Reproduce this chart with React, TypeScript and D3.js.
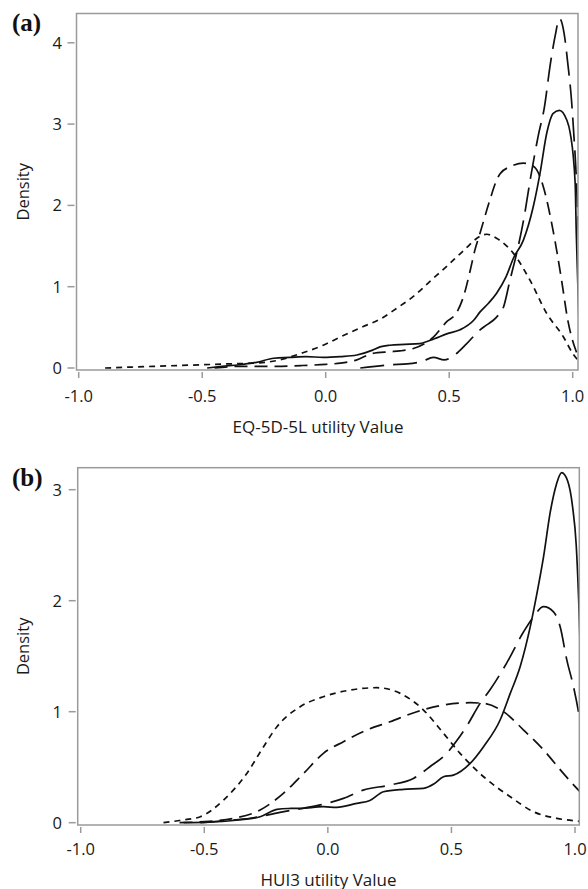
import React from "react";
import * as d3 from "d3";

// ---------- data ----------
const xTicks = [-1, -0.5, 0, 0.5, 1];
const xTickLabels = ["-1.0", "-0.5", "0.0", "0.5", "1.0"];
const yTicksA = [0, 1, 2, 3, 4];
const yTicksB = [0, 1, 2, 3];

// Panel (a) EQ-5D-5L
const aSolidX = [-0.48, -0.42, -0.35, -0.28, -0.21, -0.145, -0.08, -0.01, 0.06, 0.126, 0.19, 0.22, 0.26, 0.32, 0.38, 0.44, 0.49, 0.544, 0.6, 0.625, 0.66, 0.692, 0.73, 0.76, 0.8, 0.84, 0.868, 0.895, 0.92, 0.946, 0.976, 0.99, 1.01, 1.0145, 1.025];
const aSolidY = [0, 0.02, 0.04, 0.07, 0.12, 0.13, 0.14, 0.13, 0.14, 0.16, 0.22, 0.26, 0.28, 0.29, 0.3, 0.36, 0.42, 0.47, 0.59, 0.69, 0.8, 0.92, 1.12, 1.35, 1.57, 1.98, 2.4, 2.89, 3.13, 3.17, 3.05, 2.89, 2.27, 1.66, 0.6];

const aLongX = [0.14, 0.2, 0.26, 0.33, 0.39, 0.436, 0.48, 0.517, 0.571, 0.625, 0.652, 0.69, 0.72, 0.746, 0.773, 0.8, 0.83, 0.86, 0.885, 0.91, 0.93, 0.946, 0.965, 0.98, 0.995, 1.005, 1.012, 1.025];
const aLongY = [0, 0.02, 0.04, 0.05, 0.08, 0.13, 0.1, 0.15, 0.3, 0.47, 0.53, 0.62, 0.75, 1.08, 1.41, 1.8, 2.35, 2.85, 3.2, 3.75, 4.1, 4.3, 4.12, 3.75, 3.3, 2.85, 2.5, 1.5];

const aMedX = [-0.45, -0.35, -0.2, -0.1, 0.0, 0.06, 0.126, 0.19, 0.26, 0.3, 0.355, 0.4, 0.436, 0.49, 0.53, 0.56, 0.585, 0.604, 0.625, 0.665, 0.692, 0.706, 0.75, 0.8, 0.83, 0.854, 0.881, 0.92, 0.955, 0.98, 1.01, 1.03];
const aMedY = [0, 0.02, 0.02, 0.03, 0.045, 0.06, 0.1, 0.18, 0.2, 0.21, 0.24, 0.3, 0.38, 0.57, 0.68, 0.9, 1.2, 1.45, 1.66, 2.07, 2.31, 2.39, 2.48, 2.52, 2.5, 2.44, 2.23, 1.7, 1.08, 0.59, 0.24, 0.1];

const aDotX = [-0.893, -0.8, -0.7, -0.6, -0.5, -0.4, -0.28, -0.185, -0.1, -0.01, 0.058, 0.152, 0.22, 0.29, 0.355, 0.42, 0.49, 0.56, 0.625, 0.652, 0.7, 0.76, 0.827, 0.895, 0.962, 1.002, 1.02];
const aDotY = [0, 0.01, 0.02, 0.03, 0.04, 0.05, 0.06, 0.1, 0.18, 0.28, 0.38, 0.51, 0.6, 0.74, 0.88, 1.06, 1.25, 1.45, 1.62, 1.645, 1.58, 1.41, 1.08, 0.67, 0.385, 0.17, 0.1];

// Panel (b) HUI3
const bSolidX = [-0.584, -0.48, -0.382, -0.274, -0.206, -0.16, -0.112, -0.018, 0.036, 0.117, 0.17, 0.225, 0.306, 0.387, 0.43, 0.468, 0.508, 0.576, 0.63, 0.697, 0.738, 0.778, 0.819, 0.846, 0.873, 0.9, 0.925, 0.946, 0.97, 0.99, 1.005, 1.015, 1.025];
const bSolidY = [0, 0.005, 0.02, 0.054, 0.12, 0.128, 0.129, 0.144, 0.138, 0.174, 0.2, 0.279, 0.3, 0.309, 0.35, 0.414, 0.429, 0.535, 0.685, 0.925, 1.165, 1.405, 1.766, 2.066, 2.4, 2.8, 3.05, 3.153, 3.08, 2.85, 2.5, 2.0, 1.3];

const bLongX = [-0.516, -0.4, -0.314, -0.194, -0.1, -0.005, 0.063, 0.143, 0.251, 0.346, 0.413, 0.481, 0.522, 0.562, 0.616, 0.657, 0.724, 0.792, 0.832, 0.873, 0.913, 0.94, 0.967, 0.994, 1.014, 1.025];
const bLongY = [0, 0.02, 0.04, 0.093, 0.13, 0.174, 0.219, 0.294, 0.339, 0.399, 0.504, 0.625, 0.74, 0.87, 1.075, 1.2, 1.44, 1.72, 1.855, 1.946, 1.9, 1.765, 1.465, 1.225, 1.0, 0.85];

const bMedX = [-0.6, -0.5, -0.382, -0.274, -0.18, -0.098, -0.018, 0.063, 0.158, 0.252, 0.36, 0.468, 0.576, 0.63, 0.711, 0.792, 0.873, 0.953, 1.014, 1.025];
const bMedY = [0, 0.01, 0.039, 0.114, 0.264, 0.444, 0.625, 0.73, 0.835, 0.91, 1.0, 1.06, 1.081, 1.075, 1.0, 0.835, 0.655, 0.444, 0.294, 0.27];

const bDotX = [-0.665, -0.6, -0.516, -0.422, -0.328, -0.26, -0.206, -0.112, -0.018, 0.09, 0.198, 0.293, 0.387, 0.468, 0.535, 0.63, 0.738, 0.832, 0.927, 1.007, 1.02];
const bDotY = [0, 0.02, 0.054, 0.204, 0.444, 0.685, 0.865, 1.045, 1.135, 1.195, 1.216, 1.165, 1.015, 0.805, 0.625, 0.414, 0.234, 0.099, 0.039, 0.015, 0.012];

// ---------- styles ----------
const DASH_SOLID = "none";
const DASH_LONG = "24,9";
const DASH_MED = "13,7";
const DASH_DOT = "6,5";
const FONT = "'Open Sans', 'Noto Sans', sans-serif";
const FRAME = "#9a9a9a";

type Series = { xs: number[]; ys: number[]; dash: string };

type PanelProps = {
  id: string;
  label: string;
  xLabel: string;
  xLabelCenter: number;
  frame: { l: number; r: number; t: number; b: number };
  xRange: [number, number];
  yRange: [number, number];
  yTicks: number[];
  series: Series[];
  tickBaseline: number;
  xLabelBaseline: number;
  labelBaseline: number;
};

function Panel(p: PanelProps) {
  const x = d3.scaleLinear().domain([-1, 1]).range(p.xRange);
  const y = d3.scaleLinear().domain([0, 1]).range(p.yRange);
  const line = d3
    .line<[number, number]>()
    .x((d) => x(d[0]))
    .y((d) => y(d[1]))
    .curve(d3.curveMonotoneX);
  const { l, r, t, b } = p.frame;
  const cy = (t + b) / 2;
  return (
    <g>
      <defs>
        <clipPath id={`clip-${p.id}`}>
          <rect x={l} y={t} width={r - l} height={b - t} />
        </clipPath>
      </defs>
      <text x={12} y={p.labelBaseline} fontFamily="'Liberation Serif', 'Times New Roman', serif" fontWeight="bold" fontSize={25} fill="#111">
        {p.label}
      </text>
      <g clipPath={`url(#clip-${p.id})`}>
        {p.series.map((s, i) => (
          <path
            key={i}
            d={line(s.xs.map((v, j) => [v, s.ys[j]] as [number, number])) || ""}
            fill="none"
            stroke="#111"
            strokeWidth={1.7}
            strokeDasharray={s.dash}
          />
        ))}
      </g>
      <rect x={l} y={t} width={r - l} height={b - t} fill="none" stroke={FRAME} strokeWidth={1.5} />
      {xTicks.map((v, i) => (
        <g key={i}>
          <line x1={x(v)} x2={x(v)} y1={b + 2} y2={b + 8} stroke={FRAME} strokeWidth={1.5} />
          <text x={x(v)} y={p.tickBaseline} textAnchor="middle" fontFamily={FONT} fontSize={16.5} fill="#1a1a1a">
            {xTickLabels[i]}
          </text>
        </g>
      ))}
      {p.yTicks.map((v) => (
        <g key={v}>
          <line x1={l - 9} x2={l - 2} y1={y(v)} y2={y(v)} stroke={FRAME} strokeWidth={1.5} />
          <text x={62} y={y(v) + 6} textAnchor="end" fontFamily={FONT} fontSize={16.5} fill="#1a1a1a">
            {String(v)}
          </text>
        </g>
      ))}
      <text x={p.xLabelCenter} y={p.xLabelBaseline} textAnchor="middle" fontFamily={FONT} fontSize={17} fill="#1a1a1a">
        {p.xLabel}
      </text>
      <text
        transform={`translate(29,${cy}) rotate(-90)`}
        textAnchor="middle"
        fontFamily={FONT}
        fontSize={16.5}
        fill="#1a1a1a"
      >
        Density
      </text>
    </g>
  );
}

export default function App() {
  const seriesA: Series[] = [
    { xs: aDotX, ys: aDotY, dash: DASH_DOT },
    { xs: aMedX, ys: aMedY, dash: DASH_MED },
    { xs: aLongX, ys: aLongY, dash: DASH_LONG },
    { xs: aSolidX, ys: aSolidY, dash: DASH_SOLID },
  ];
  const seriesB: Series[] = [
    { xs: bDotX, ys: bDotY, dash: DASH_DOT },
    { xs: bMedX, ys: bMedY, dash: DASH_MED },
    { xs: bLongX, ys: bLongY, dash: DASH_LONG },
    { xs: bSolidX, ys: bSolidY, dash: DASH_SOLID },
  ];
  return (
    <svg
      width={588}
      height={889}
      style={{ position: "absolute", left: 0, top: 0, background: "#fff" }}
    >
      <rect width={588} height={889} fill="#fff" />
      <Panel
        id="a"
        label="(a)"
        xLabel="EQ-5D-5L utility Value"
        xLabelCenter={318}
        frame={{ l: 76.5, r: 578, t: 13.5, b: 370 }}
        xRange={[78.7, 572.7]}
        yRange={[368, 286.7]}
        yTicks={yTicksA}
        series={seriesA}
        tickBaseline={401.5}
        xLabelBaseline={433}
        labelBaseline={30.5}
      />
      <Panel
        id="b"
        label="(b)"
        xLabel="HUI3 utility Value"
        xLabelCenter={328.5}
        frame={{ l: 77.7, r: 579.3, t: 467.7, b: 825 }}
        xRange={[80.7, 575]}
        yRange={[822.7, 711.7]}
        yTicks={yTicksB}
        series={seriesB}
        tickBaseline={855}
        xLabelBaseline={885.5}
        labelBaseline={486}
      />
    </svg>
  );
}
